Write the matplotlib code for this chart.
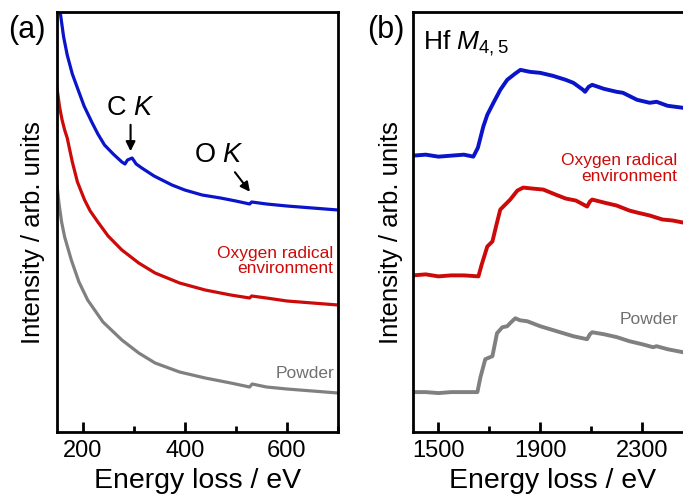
import matplotlib
matplotlib.use('Agg')
import matplotlib.pyplot as plt
from matplotlib.ticker import MultipleLocator

plt.rcParams['font.family'] = ['Liberation Sans', 'DejaVu Sans']
plt.rcParams['mathtext.fontset'] = 'custom'
plt.rcParams['mathtext.rm'] = 'Liberation Sans'
plt.rcParams['mathtext.it'] = 'Liberation Sans:italic'

BLUE = '#0a14c8'
RED = '#cc0a0a'
GRAY = '#808080'

# ── (a) low-loss background ────────────────────────────
ea_blue = [150, 157, 163, 170, 180, 190, 203, 218, 230, 243, 260, 277, 283, 288, 297,
           305, 316, 340, 375, 400, 434, 470, 500, 527, 531, 560, 600, 650, 700]
ia_blue = [437, 417, 395, 377, 358, 344, 326, 310, 298, 287, 278, 270, 268, 272, 274,
           268, 264, 256, 247, 242, 237, 234, 231, 228, 230, 228, 226, 224, 222]

ea_red = [150, 155, 160, 165, 170, 180, 190, 204, 215, 230, 250, 277, 310, 342, 390,
          440, 490, 527, 531, 560, 600, 650, 700]
ia_red = [344, 325, 312, 302, 294, 270, 250, 232, 221, 210, 196, 182, 169, 159, 149,
          142, 137, 134, 136, 134, 131, 129, 127]

ea_gray = [150, 154, 159, 165, 178, 193, 210, 240, 277, 310, 342, 390, 440, 490, 527,
           532, 560, 600, 650, 700]
ia_gray = [247, 228, 210, 195, 172, 150, 132, 110, 92, 79, 69, 60, 54, 49, 45,
           48, 45, 43, 41, 39]

# ── (b) Hf M4,5 edge ───────────────────────────────────
eb_blue = [1400, 1450, 1500, 1550, 1600, 1637, 1655, 1676, 1692, 1716, 1743, 1770, 1800,
           1822, 1860, 1900, 1950, 2000, 2030, 2068, 2076, 2090, 2104, 2150, 2200,
           2225, 2280, 2330, 2357, 2400, 2460, 2500]
ib_blue = [277, 278, 276, 277, 278, 276, 285, 306, 318, 330, 343, 353, 359,
           363, 361, 360, 357, 353, 350, 343, 341, 346, 348, 344, 341,
           340, 333, 330, 331, 327, 325, 323]

eb_red = [1400, 1450, 1500, 1550, 1600, 1657, 1670, 1692, 1712, 1730, 1743, 1782, 1810,
          1833, 1870, 1912, 1960, 2000, 2040, 2084, 2095, 2104, 2150, 2200, 2250,
          2280, 2330, 2380, 2420, 2460, 2500]
ib_red = [157, 158, 156, 157, 157, 156, 168, 186, 191, 210, 223, 233, 242,
          245, 244, 243, 238, 234, 232, 226, 231, 233, 230, 227, 222,
          220, 217, 213, 212, 210, 208]

eb_gray = [1400, 1450, 1500, 1550, 1600, 1653, 1665, 1684, 1712, 1730, 1751, 1770, 1785,
           1802, 1820, 1849, 1900, 1978, 2030, 2084, 2095, 2104, 2150, 2202, 2250,
           2300, 2343, 2357, 2400, 2460, 2500]
ib_gray = [40, 40, 39, 40, 40, 40, 55, 73, 76, 99, 105, 106, 110,
           114, 112, 111, 106, 100, 96, 93, 98, 100, 98, 95, 91,
           88, 85, 86, 83, 80, 78]

W, H = 683, 501
fig = plt.figure(figsize=(W / 100, H / 100), dpi=100)
fig.patch.set_facecolor('white')

ax1 = fig.add_axes([57 / W, (H - 432) / H, (338 - 57) / W, 420 / H])
ax2 = fig.add_axes([413 / W, (H - 432) / H, (693 - 413) / W, 420 / H])


def style(ax, lx):
    for s in ax.spines.values():
        s.set_linewidth(2.0)
    ax.set_yticks([])
    ax.tick_params(axis='x', which='major', direction='in', length=7, width=2.0,
                   labelsize=17, pad=6, top=False)
    ax.tick_params(axis='x', which='minor', direction='in', length=4, width=2.0, top=False)
    ax.set_xlabel('Energy loss / eV', fontsize=20.5, labelpad=4)
    ax.set_ylabel('Intensity / arb. units', fontsize=18.5)
    ax.yaxis.set_label_coords(lx, 0.474)


# ── 面板 (a) ─────────────────────────────────────────
ax1.plot(ea_blue, ia_blue, color=BLUE, lw=2.3, solid_joinstyle='round')
ax1.plot(ea_red, ia_red, color=RED, lw=2.3, solid_joinstyle='round')
ax1.plot(ea_gray, ia_gray, color=GRAY, lw=2.3, solid_joinstyle='round')
ax1.set_xlim(150, 700)
ax1.set_ylim(0, 420)
ax1.xaxis.set_major_locator(MultipleLocator(200))
ax1.xaxis.set_minor_locator(MultipleLocator(100))
style(ax1, -0.043)

ax1.text(294, 324, r'C $K$', fontsize=19.5, ha='center', va='center')
ax1.annotate('', xy=(294, 278), xytext=(294, 310),
             arrowprops=dict(arrowstyle='-|>', color='black', lw=1.5, mutation_scale=14))
ax1.text(466, 277, r'O $K$', fontsize=19.5, ha='center', va='center')
ax1.annotate('', xy=(531, 238), xytext=(495, 262),
             arrowprops=dict(arrowstyle='-|>', color='black', lw=1.5, mutation_scale=14))
ax1.text(690, 171, 'Oxygen radical\nenvironment', color=RED, fontsize=12.5,
         ha='right', va='center', linespacing=1.05)
ax1.text(693, 59, 'Powder', color='#707070', fontsize=12.5, ha='right', va='center')

# ── 面板 (b) ─────────────────────────────────────────
ax2.plot(eb_blue, ib_blue, color=BLUE, lw=2.8, solid_joinstyle='round')
ax2.plot(eb_red, ib_red, color=RED, lw=2.8, solid_joinstyle='round')
ax2.plot(eb_gray, ib_gray, color=GRAY, lw=2.8, solid_joinstyle='round')
ax2.set_xlim(1400, 2500)
ax2.set_ylim(0, 421)
ax2.set_xticks([1500, 1900, 2300])
ax2.set_xticks([1700, 2100], minor=True)
style(ax2, -0.036)

ax2.text(1440, 390, r'Hf $M_{\mathregular{4,5}}$', fontsize=19, ha='left', va='center')
ax2.text(2437, 264, 'Oxygen radical\nenvironment', color=RED, fontsize=12.5,
         ha='right', va='center', linespacing=1.05)
ax2.text(2441, 113, 'Powder', color='#707070', fontsize=12.5, ha='right', va='center')

# ── 面板标签 ─────────────────────────────────────────
fig.text(8 / W, 1 - 30 / H, '(a)', fontsize=22, ha='left', va='center')
fig.text(367 / W, 1 - 30 / H, '(b)', fontsize=22, ha='left', va='center')

plt.savefig('out.png', dpi=100, facecolor='white')
plt.close()
